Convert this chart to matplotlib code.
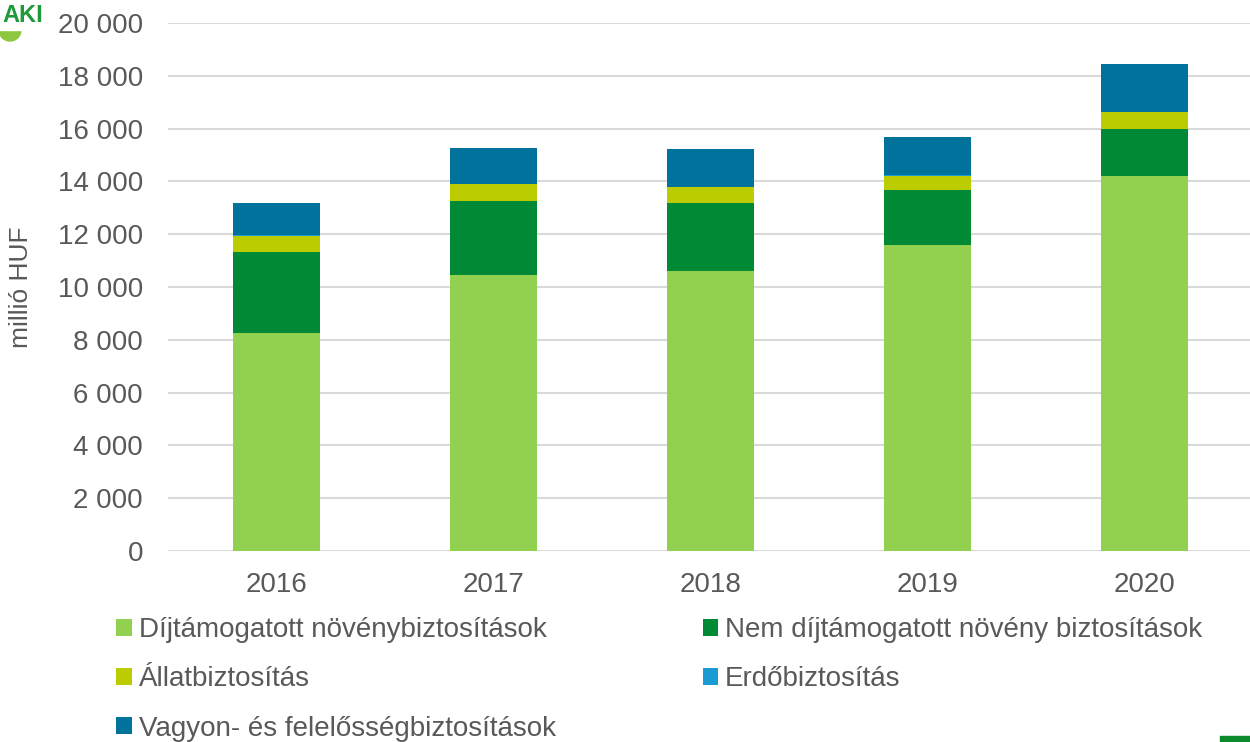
import matplotlib
matplotlib.use("Agg")
import matplotlib.pyplot as plt
import numpy as np
from matplotlib.patches import Patch, Rectangle, Ellipse

years = ["2016", "2017", "2018", "2019", "2020"]
series_names = ["Díjtámogatott növénybiztosítások",
                "Nem díjtámogatott növény biztosítások",
                "Állatbiztosítás",
                "Erdőbiztosítás",
                "Vagyon- és felelősségbiztosítások"]
dijtamogatott = [8270, 10460, 10600, 11590, 14220]
nem_dijtamogatott = [3050, 2800, 2570, 2070, 1750]
allat = [630, 630, 600, 560, 660]
erdo = [15, 15, 15, 15, 15]
vagyon = [1215, 1375, 1425, 1465, 1790]
colors = ["#92D050", "#008A36", "#BBCC00", "#1A9BD1", "#00729B"]
yticks = [0, 2000, 4000, 6000, 8000, 10000, 12000, 14000, 16000, 18000, 20000]

plt.rcParams['font.family'] = ['Liberation Sans', 'DejaVu Sans']
FS = 20
TXT = "#595959"

fig = plt.figure(figsize=(12.5, 7.42), dpi=100)
ax = fig.add_axes([168/1250, 1 - 551/742, 1085/1250, 528/742])

data = [dijtamogatott, nem_dijtamogatott, allat, erdo, vagyon]
x = np.arange(len(years))
bottom = np.zeros(len(years))
for vals, c in zip(data, colors):
    ax.bar(x, vals, width=0.4, bottom=bottom, color=c, zorder=3)
    bottom += np.array(vals)

ax.set_xlim(-0.5, len(years) - 0.5)
ax.set_ylim(0, 20000)
ax.set_yticks(yticks)
ax.set_yticklabels([f"{v:,}".replace(",", " ") for v in yticks])
ax.set_xticks(x)
ax.set_xticklabels(years)
ax.tick_params(axis='both', length=0, labelsize=FS, colors=TXT)
ax.tick_params(axis='y', pad=18)
ax.tick_params(axis='x', pad=15)
ax.grid(axis='y', color="#D9D9D9", linewidth=1.5, zorder=0)
for s in ax.spines.values():
    s.set_visible(False)
ax.set_ylabel("millió HUF", fontsize=19, color=TXT)
ax.yaxis.set_label_coords(-135/1085, 0.5)

order = [0, 2, 4, 1, 3]
handles = [Patch(facecolor=colors[i]) for i in order]
labels = [series_names[i] for i in order]
fig.legend(handles, labels, loc='upper left', bbox_to_anchor=(97/1250, 1 - 598/742),
           ncol=2, frameon=False, fontsize=FS, labelcolor=TXT,
           handlelength=0.55, handleheight=0.55, handletextpad=0.25,
           columnspacing=5.3, labelspacing=0.83, borderpad=0.2)

fig.patches.append(Ellipse((10/1250, 1 - 30/742), 22/1250, 22/742,
                           transform=fig.transFigure, color="#8DC63F", zorder=1))
fig.patches.append(Rectangle((0, 1 - 30/742), 40/1250, 16/742,
                             transform=fig.transFigure, color="white", zorder=1.5))
fig.text(2/1250, 1 - 4/742, "AKI", fontsize=17, fontweight='bold', color="#1E9A3A",
         ha='left', va='top', zorder=2)
fig.patches.append(Rectangle((1220/1250, 0), 30/1250, 6/742, transform=fig.transFigure,
                             color="#0A8A2A"))

fig.savefig("out.png", dpi=100)
